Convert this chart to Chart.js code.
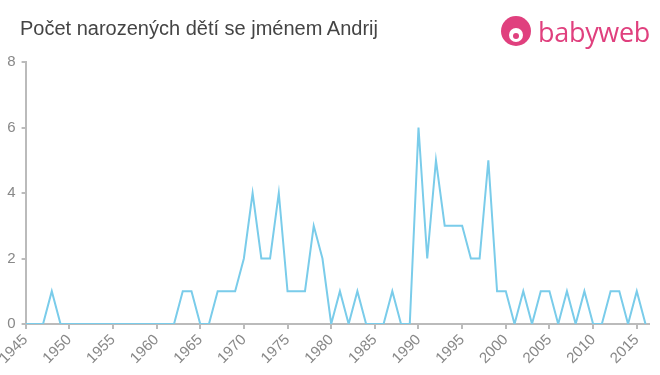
<!DOCTYPE html>
<html>
<head>
<meta charset="utf-8">
<script src="https://cdn.jsdelivr.net/npm/chart.js@4"></script>
<style>
html,body{margin:0;padding:0;background:#fff;}
#wrap{position:relative;width:660px;height:375px;overflow:hidden;}
#title{position:absolute;left:20px;top:17px;font-family:"Liberation Sans",Arial,sans-serif;font-size:20px;color:#444;white-space:nowrap;}
#logo{position:absolute;left:500px;top:14px;height:36px;}
#logo .icon{position:absolute;left:1px;top:2px;width:30px;height:30px;border-radius:50%;background:#e0407e;}
#logo .face{position:absolute;left:9px;top:14px;width:14px;height:14px;border-radius:50%;background:#fff;}
#logo .nose{position:absolute;left:13px;top:19px;width:6px;height:6px;border-radius:50%;background:#e0407e;}
#logo .txt{position:absolute;left:38px;top:-1px;font-family:"Open Sans","Noto Sans",sans-serif;font-size:27px;color:#e0407e;letter-spacing:-0.3px;}
canvas{position:absolute;left:0;top:0;}
</style>
</head>
<body>
<div id="wrap">
<canvas id="c" width="660" height="375"></canvas>
<div id="title">Počet narozených dětí se jménem Andrij</div>
<div id="logo"><div class="icon"></div><div class="face"></div><div class="nose"></div><div class="txt">babyweb</div></div>
</div>
<script>
const years = [1945,1946,1947,1948,1949,1950,1951,1952,1953,1954,1955,1956,1957,1958,1959,1960,1961,1962,1963,1964,1965,1966,1967,1968,1969,1970,1971,1972,1973,1974,1975,1976,1977,1978,1979,1980,1981,1982,1983,1984,1985,1986,1987,1988,1989,1990,1991,1992,1993,1994,1995,1996,1997,1998,1999,2000,2001,2002,2003,2004,2005,2006,2007,2008,2009,2010,2011,2012,2013,2014,2015,2016];
const counts = [0,0,0,1,0,0,0,0,0,0,0,0,0,0,0,0,0,0,1,1,0,0,1,1,1,2,4,2,2,4,1,1,1,3,2,0,1,0,1,0,0,0,1,0,0,6,2,5,3,3,3,2,2,5,1,1,0,1,0,1,1,0,1,0,1,0,0,1,1,0,1,0];
const yTicks = [0,2,4,6,8];
const xTickStep = 5;

const points = years.map((y,i)=>({x:y,y:counts[i]}));
new Chart(document.getElementById('c'), {
  type:'line',
  data:{datasets:[{data:points,borderColor:'#7accea',borderWidth:2,pointRadius:0,tension:0,fill:false}]},
  options:{
    responsive:false,animation:false,
    layout:{padding:{top:62,right:11,left:0,bottom:0}},
    plugins:{legend:{display:false},tooltip:{enabled:false},title:{display:false}},
    scales:{
      x:{type:'linear',min:1945,max:2016.4,
        afterFit:s=>{s.height=51;},
        afterBuildTicks:s=>{s.ticks=[];for(let v=1945;v<=2016;v+=xTickStep)s.ticks.push({value:v});},
        grid:{drawOnChartArea:false,drawTicks:true,tickLength:5,color:'#bbb',lineWidth:2},
        border:{color:'#bbb',width:2},
        ticks:{maxRotation:45,minRotation:45,autoSkip:false,padding:2,color:'#888',font:{family:'"Liberation Sans",Arial,sans-serif',size:15},callback:v=>String(v)}
      },
      y:{min:0,max:8,
        afterFit:s=>{s.width=24;},
        afterBuildTicks:s=>{s.ticks=yTicks.map(v=>({value:v}));},
        grid:{drawOnChartArea:false,drawTicks:true,tickLength:4,color:'#bbb',lineWidth:2},
        border:{color:'#bbb',width:2},
        ticks:{padding:6,color:'#888',font:{family:'"Liberation Sans",Arial,sans-serif',size:15}}
      }
    }
  }
});
</script>
</body>
</html>
